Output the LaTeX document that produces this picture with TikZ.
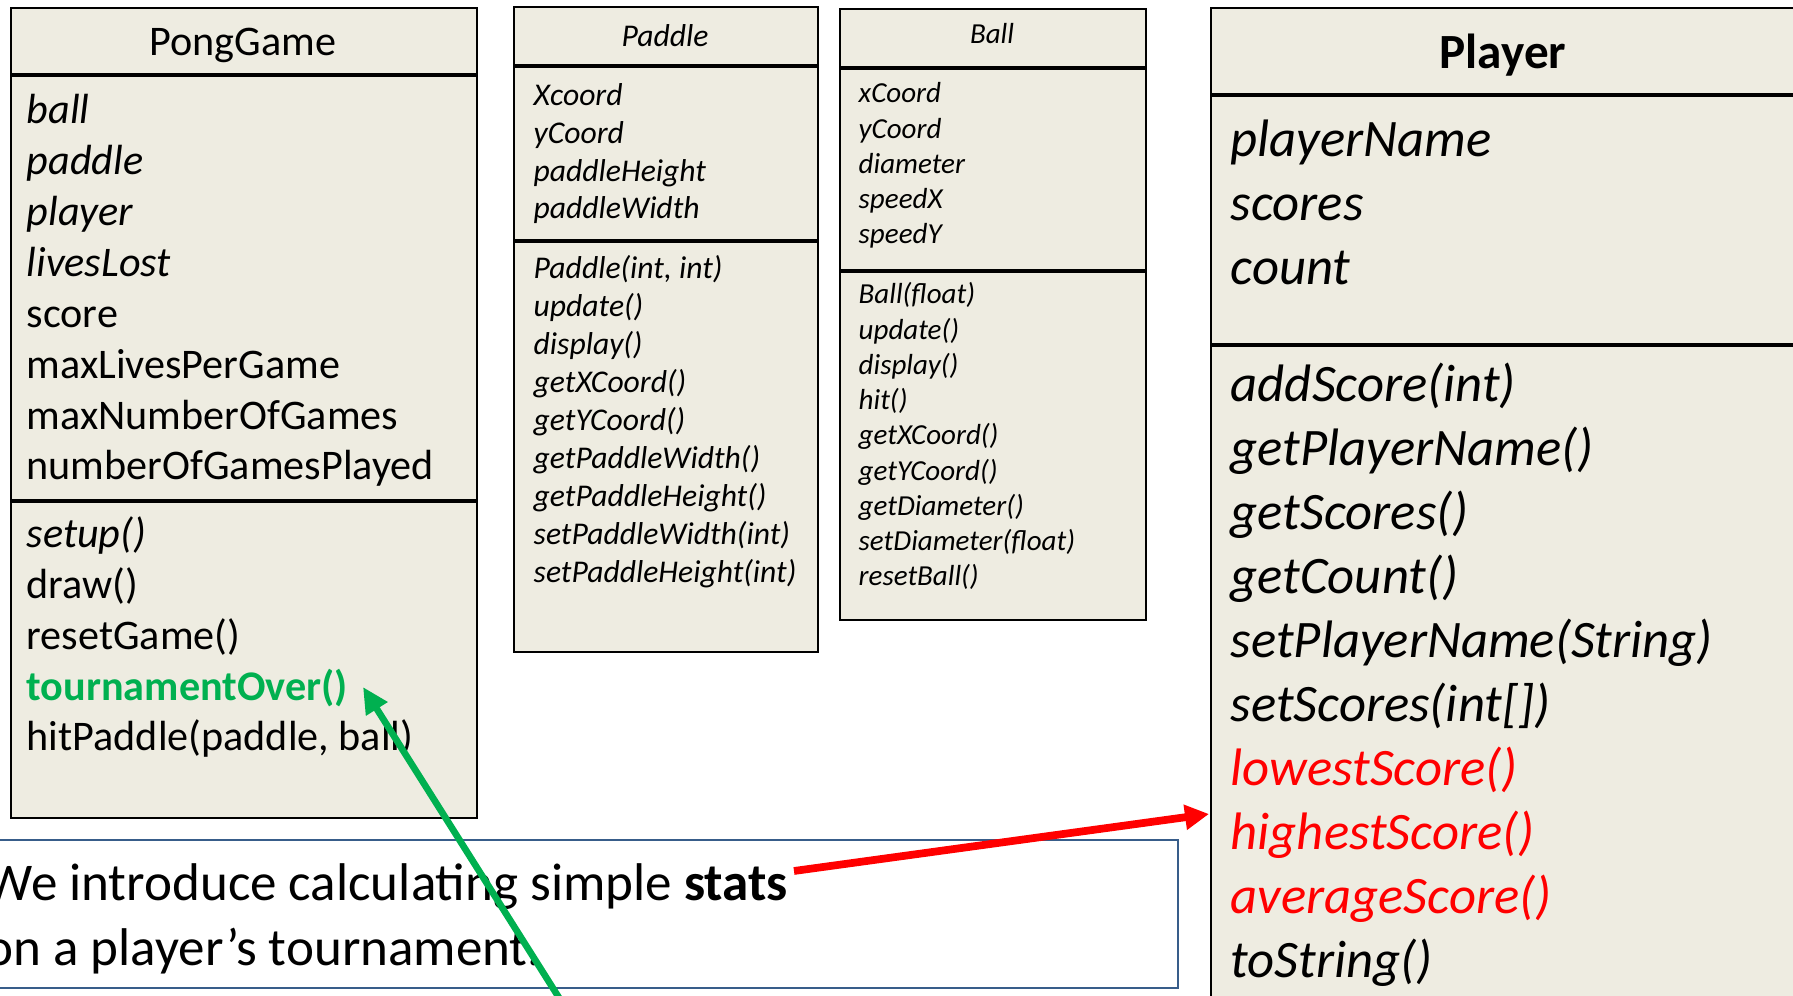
\documentclass[tikz,border=0pt]{standalone}
\usepackage{fontspec}
\setmainfont{Carlito}
\usetikzlibrary{arrows.meta}
\definecolor{tan}{HTML}{EEECE1}
\definecolor{grn}{HTML}{00B050}
\definecolor{rd}{HTML}{FF0000}
\definecolor{navy}{HTML}{385D8A}

\begin{document}
\begin{tikzpicture}[x=0.1mm,y=-0.1mm,
cls/.style = {draw,fill=tan,line width=0.6pt,anchor=north west,inner sep=0pt},
ttl/.style = {anchor=base,inner sep=0pt},
txt/.style = {anchor=base west,align=left,inner sep=0pt},
note/.style = {draw=navy,line width=0.6pt,anchor=north west,inner sep=0pt},
grnarr/.style = {draw,-{Triangle[length=2.6mm,width=2.4mm]},line width=1.9pt,grn},
redarr/.style = {draw,-{Triangle[length=2.4mm,width=2.4mm]},line width=2.2pt,rd}
]
  \useasboundingbox (0,0) rectangle (1793,996);
  \clip (0,0) rectangle (1793,996);

  \node[cls,minimum width=46.6mm,minimum height=6.6mm] (pg) at (10,7) {};
  \node[cls,minimum width=46.6mm,minimum height=42.4mm] (pgattr) at (pg.south west) {};
  \node[cls,minimum width=46.6mm,minimum height=31.6mm] (pgops) at (pgattr.south west) {};
  \node[ttl,font=\fontsize{12}{14.5}\selectfont] (pgname) at (243,56) {PongGame};
  \node[txt,font=\fontsize{12}{14.5}\selectfont] (pgattrtxt) at (26,480)
    {\textit{ball}\\\textit{paddle}\\\textit{player}\\\textit{livesLost}\\score\\maxLivesPerGame\\maxNumberOfGames\\numberOfGamesPlayed};
  \node[txt,font=\fontsize{12}{14.45}\selectfont] (pgopstxt) at (26,751)
    {\textit{setup()}\\draw()\\resetGame()\\{\color{grn}\bfseries tournamentOver()}\\hitPaddle(paddle, ball)};

  \node[cls,minimum width=30.4mm,minimum height=5.8mm] (pd) at (513,6) {};
  \node[cls,minimum width=30.4mm,minimum height=17.3mm] (pdattr) at (pd.south west) {};
  \node[cls,minimum width=30.4mm,minimum height=41mm] (pdops) at (pdattr.south west) {};
  \node[ttl,font=\fontsize{9}{10.8}\selectfont\itshape] (pdname) at (665,47) {Paddle};
  \node[txt,font=\fontsize{9}{10.8}\selectfont\itshape] (pdattrtxt) at (533,219)
    {Xcoord\\yCoord\\paddleHeight\\paddleWidth};
  \node[txt,font=\fontsize{9}{10.84}\selectfont\itshape] (pdopstxt) at (533,583)
    {Paddle(int, int)\\update()\\display()\\getXCoord()\\getYCoord()\\getPaddleWidth()\\getPaddleHeight()\\setPaddleWidth(int)\\setPaddleHeight(int)};

  \node[cls,minimum width=30.6mm,minimum height=5.8mm] (bl) at (839,8) {};
  \node[cls,minimum width=30.6mm,minimum height=20.1mm] (blattr) at (bl.south west) {};
  \node[cls,minimum width=30.6mm,minimum height=34.8mm] (blops) at (blattr.south west) {};
  \node[ttl,font=\fontsize{8.25}{10}\selectfont\itshape] (blname) at (992,44) {Ball};
  \node[txt,font=\fontsize{8.25}{10.04}\selectfont\itshape] (blattrtxt) at (858,244)
    {xCoord\\yCoord\\diameter\\speedX\\speedY};
  \node[txt,font=\fontsize{8.25}{10.03}\selectfont\itshape] (blopstxt) at (858,586)
    {Ball(float)\\update()\\display()\\hit()\\getXCoord()\\getYCoord()\\getDiameter()\\setDiameter(float)\\resetBall()};

  \node[cls,minimum width=58.7mm,minimum height=8.6mm] (pl) at (1210,7) {};
  \node[cls,minimum width=58.7mm,minimum height=24.8mm] (plattr) at (pl.south west) {};
  \node[cls,minimum width=58.7mm,minimum height=67mm] (plops) at (plattr.south west) {};
  \node[ttl,font=\fontsize{14}{17}\selectfont\bfseries] (plname) at (1503,69) {Player};
  \node[txt,font=\fontsize{15}{18.35}\selectfont\itshape] (plattrtxt) at (1230,285)
    {playerName\\scores\\count};
  \node[txt,font=\fontsize{15}{18.24}\selectfont\itshape] (plopstxt) at (1230,978)
    {addScore(int)\\getPlayerName()\\getScores()\\getCount()\\setPlayerName(String)\\setScores(int[])\\{\color{rd}lowestScore()}\\{\color{rd}highestScore()}\\{\color{rd}averageScore()}\\toString()};

  \node[note,minimum width=118.7mm,minimum height=14.8mm] (nt) at (-10,839) {};
  \node[txt,font=\fontsize{15.1}{18.5}\selectfont] (nttxt) at (-15,966)
    {We introduce calculating simple \textbf{stats}\\on a player's tournament.};

  \coordinate (gtail) at (568,1012);
  \coordinate (gtip) at (363,687);
  \coordinate (rtail) at (794,871);
  \coordinate (rtip) at (1209,814);

  \path[grnarr] (gtail) -- (gtip);
  \path[redarr] (rtail) -- (rtip);

\end{tikzpicture}
\end{document}
